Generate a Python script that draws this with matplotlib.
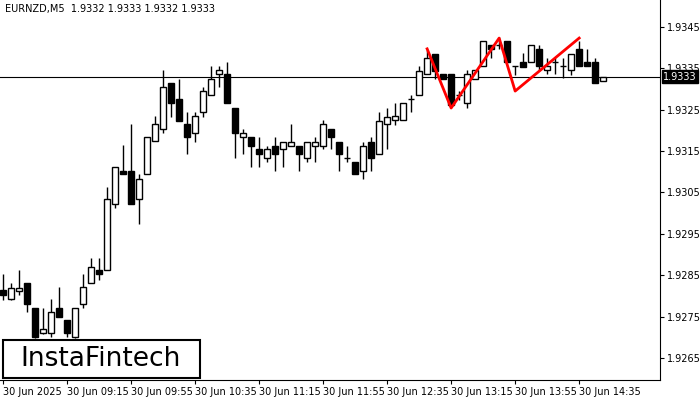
import matplotlib
matplotlib.use("Agg")
import matplotlib.pyplot as plt
import matplotlib.patches as mpatches
import numpy as np

opens = [1.92815,1.92793,1.92812,1.92832,1.92771,1.92711,1.92711,1.92771,1.92742,1.92701,
         1.92781,1.92832,1.92863,1.92863,1.93023,1.93102,1.93102,1.93035,1.93095,1.93175,
         1.93204,1.93315,1.93276,1.93216,1.93194,1.93245,1.93286,1.93336,1.93336,1.93254,
         1.93184,1.93184,1.93155,1.93134,1.93163,1.93155,1.93163,1.93163,1.93134,1.93163,
         1.93163,1.93204,1.93172,1.93134,1.93124,1.93102,1.93172,1.93143,1.93216,1.93225,
         1.93225,1.93276,1.93286,1.93336,1.93385,1.93336,1.93336,1.93286,1.93266,1.93324,
         1.93356,1.93407,1.93407,1.93416,1.93356,1.93365,1.93365,1.93397,1.93346,1.93365,
         1.93356,1.93346,1.93397,1.93365,1.93365,1.93320]
highs = [1.92853,1.92832,1.92863,1.92832,1.92771,1.92771,1.92793,1.92822,1.92742,1.92771,
         1.92853,1.92892,1.92892,1.93064,1.93112,1.93165,1.93216,1.93095,1.93184,1.93235,
         1.93346,1.93315,1.93324,1.93245,1.93245,1.93305,1.93356,1.93356,1.93365,1.93254,
         1.93204,1.93184,1.93184,1.93163,1.93184,1.93172,1.93216,1.93163,1.93172,1.93184,
         1.93225,1.93204,1.93172,1.93163,1.93124,1.93172,1.93184,1.93245,1.93254,1.93266,
         1.93266,1.93286,1.93356,1.93394,1.93385,1.93336,1.93336,1.93295,1.93346,1.93346,
         1.93416,1.93407,1.93426,1.93416,1.93356,1.93387,1.93407,1.93407,1.93375,1.93375,
         1.93375,1.93385,1.93416,1.93397,1.93375,1.93330]
lows = [1.92791,1.92791,1.92803,1.92762,1.92699,1.92709,1.92701,1.92750,1.92701,1.92699,
        1.92771,1.92832,1.92839,1.92863,1.93013,1.93095,1.93023,1.92974,1.93095,1.93175,
        1.93194,1.93233,1.93223,1.93143,1.93172,1.93233,1.93286,1.93305,1.93266,1.93134,
        1.93143,1.93112,1.93112,1.93124,1.93102,1.93112,1.93163,1.93102,1.93124,1.93124,
        1.93155,1.93155,1.93102,1.93124,1.93095,1.93083,1.93102,1.93143,1.93155,1.93213,
        1.93225,1.93245,1.93286,1.93336,1.93324,1.93324,1.93262,1.93274,1.93254,1.93324,
        1.93356,1.93375,1.93397,1.93365,1.93334,1.93353,1.93365,1.93344,1.93336,1.93336,
        1.93327,1.93334,1.93356,1.93356,1.93315,1.93320]
closes = [1.92803,1.92820,1.92820,1.92781,1.92701,1.92721,1.92762,1.92750,1.92711,1.92771,
          1.92822,1.92870,1.92853,1.93035,1.93112,1.93095,1.93023,1.93083,1.93184,1.93216,
          1.93305,1.93266,1.93223,1.93184,1.93235,1.93295,1.93324,1.93346,1.93266,1.93194,
          1.93194,1.93163,1.93143,1.93155,1.93143,1.93172,1.93172,1.93143,1.93172,1.93172,
          1.93216,1.93184,1.93143,1.93133,1.93095,1.93163,1.93134,1.93223,1.93233,1.93235,
          1.93266,1.93275,1.93344,1.93375,1.93344,1.93324,1.93262,1.93285,1.93336,1.93346,
          1.93416,1.93397,1.93406,1.93365,1.93355,1.93353,1.93407,1.93356,1.93356,1.93364,
          1.93355,1.93385,1.93356,1.93356,1.93315,1.93330]

pattern_idx = [53, 56, 62, 64, 72]
pattern_px = [1.93397, 1.93254, 1.93423, 1.93295, 1.93423]

xtick_idx = [0, 8, 16, 24, 32, 40, 48, 56, 64, 72]
xtick_labels = ["30 Jun 2025", "30 Jun 09:15", "30 Jun 09:55", "30 Jun 10:35", "30 Jun 11:15",
                "30 Jun 11:55", "30 Jun 12:35", "30 Jun 13:15", "30 Jun 13:55", "30 Jun 14:35"]
yticks = [1.9265, 1.9275, 1.9285, 1.9295, 1.9305, 1.9315, 1.9325, 1.9335, 1.9345]
current = 1.9333
title = "EURNZD,M5  1.9332 1.9333 1.9332 1.9333"

fig = plt.figure(figsize=(7, 4), dpi=100)
ax = fig.add_axes([0, 0.05, 660/700, 0.95])
n = len(opens)
x = np.arange(n)
o = np.array(opens); h = np.array(highs); l = np.array(lows); c = np.array(closes)
ax.vlines(x, l, h, color="black", lw=1, zorder=2)
w = 0.72
for i in range(n):
    lo, hi = min(o[i], c[i]), max(o[i], c[i])
    if hi - lo < 0.00003:
        ax.hlines((o[i]+c[i])/2, i - w/2, i + w/2, color="black", lw=1, zorder=3)
    else:
        fc = "white" if c[i] > o[i] else "black"
        ax.add_patch(mpatches.Rectangle((i - w/2, lo), w, hi - lo, facecolor=fc,
                                        edgecolor="black", lw=1, zorder=3))
ax.plot(pattern_idx, pattern_px, color="#ff0000", lw=2, zorder=4)
ax.axhline(current, color="black", lw=0.8, zorder=1)

ax.set_xlim(-0.375, 82.1)
ax.set_ylim(1.92597, 1.93515)
ax.yaxis.tick_right()
ax.set_yticks(yticks)
ax.set_yticklabels([f"{v:.4f}" for v in yticks], fontsize=7)
ax.set_xticks(xtick_idx)
ax.set_xticklabels(xtick_labels, fontsize=7, ha="left")
ax.tick_params(axis="x", length=3, pad=2)
ax.tick_params(axis="y", length=3, pad=2)
for s in ["top", "left"]:
    ax.spines[s].set_visible(False)
ax.text(1.005, current, f"{current:.4f}", transform=ax.get_yaxis_transform(), fontsize=7,
        color="white", va="center", ha="left",
        bbox=dict(boxstyle="square,pad=0.15", fc="black", ec="black"), zorder=5)
ax.text(0.007, 0.99, title, transform=ax.transAxes, fontsize=7, va="top", ha="left")

fig.patches.append(mpatches.Rectangle((3/700, 22/400), 197/700, 38/400, transform=fig.transFigure,
                                      fc="white", ec="black", lw=1.5, zorder=10))
fig.text(101/700, 41/400, "InstaFintech", fontsize=19, ha="center", va="center", zorder=11)
fig.savefig("out.png", dpi=100)
